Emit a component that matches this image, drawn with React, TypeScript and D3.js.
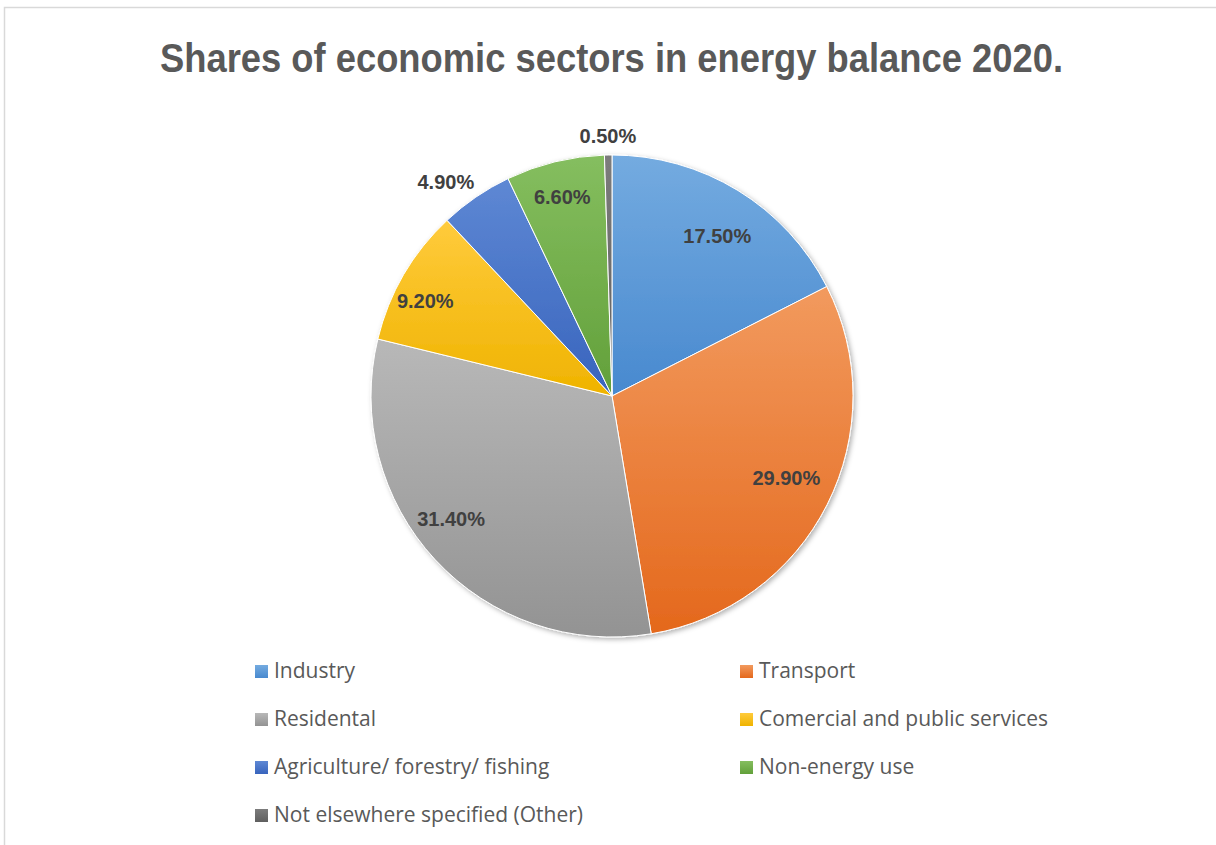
import React from "react";
import * as d3 from "d3";

const categories = [
  "Industry",
  "Transport",
  "Residental",
  "Comercial and public services",
  "Agriculture/ forestry/ fishing",
  "Non-energy use",
  "Not elsewhere specified (Other)",
];
const values = [17.5, 29.9, 31.4, 9.2, 4.9, 6.6, 0.5];
const labels = ["17.50%", "29.90%", "31.40%", "9.20%", "4.90%", "6.60%", "0.50%"];
const lightColors = ["#74abe0", "#f29a5e", "#b8b8b8", "#ffcb3c", "#5e88d4", "#85be5f", "#7c7c7c"];
const darkColors = ["#4889cf", "#e4681c", "#939393", "#efb300", "#3864bd", "#62a03a", "#5f5f5f"];
const outsideLabel = [false, false, false, false, true, false, true];
// small best-fit nudges applied to the label anchor (px)
const labelNudge = [
  [2, 8],
  [-2, -7],
  [-16, -11],
  [-16, 5],
  [0, 0],
  [-3, -7],
  [0, 0],
];

const W = 1216;
const H = 845;
const cx = 612;
const cy = 396;
const R = 241;

export default function App() {
  const pie = d3
    .pie<number>()
    .sort(null)
    .value((d) => d)
    .startAngle(0)
    .endAngle(2 * Math.PI);
  const arcs = pie(values);
  const arcGen = d3.arc<d3.PieArcDatum<number>>().innerRadius(0).outerRadius(R);

  const labelPos = (a: d3.PieArcDatum<number>, i: number) => {
    const mid = (a.startAngle + a.endAngle) / 2;
    const r = outsideLabel[i] ? (i === 6 ? R + 19 : R + 30) : R * 0.82;
    const ang = outsideLabel[i] && i === 4 ? mid - 0.06 : mid;
    return [Math.sin(ang) * r + labelNudge[i][0], -Math.cos(ang) * r + labelNudge[i][1]];
  };

  const legendRows = [678, 726, 774, 822];
  const legendCols = [255, 740];

  return (
    <div style={{ position: "absolute", left: 0, top: 0, width: W, height: H, background: "#fff" }}>
      <svg width={W} height={H} style={{ display: "block" }}>
        <defs>
          {categories.map((c, i) => (
            <linearGradient key={c} id={`g${i}`} x1="0" y1="0" x2="0" y2="1">
              <stop offset="0" stopColor={lightColors[i]} />
              <stop offset="1" stopColor={darkColors[i]} />
            </linearGradient>
          ))}
          <filter id="shadow" x="-10%" y="-10%" width="120%" height="120%">
            <feDropShadow dx="2" dy="2" stdDeviation="2.5" floodColor="#000" floodOpacity="0.3" />
          </filter>
        </defs>
        <rect x={4.5} y={7.5} width={W + 10} height={H + 10} fill="#fff" stroke="#d9d9d9" strokeWidth={1.5} />
        <text
          x={611.5}
          y={72}
          textAnchor="middle"
          fontFamily="'Liberation Sans', Arial, sans-serif"
          fontWeight="bold"
          fontSize={41}
          fill="#595959"
          textLength={903}
          lengthAdjust="spacingAndGlyphs"
        >
          Shares of economic sectors in energy balance 2020.
        </text>
        <g transform={`translate(${cx},${cy})`}>
          <g filter="url(#shadow)">
            {arcs.map((a, i) => (
              <path key={i} d={arcGen(a) || ""} fill={`url(#g${i})`} stroke="#fff" strokeWidth={1} />
            ))}
          </g>
          {arcs.map((a, i) => {
            const [x, y] = labelPos(a, i);
            return (
              <text
                key={`l${i}`}
                x={x}
                y={y}
                dy="0.35em"
                textAnchor="middle"
                fontFamily="'Liberation Sans', Arial, sans-serif"
                fontWeight="bold"
                fontSize={20}
                fill="#404040"
              >
                {labels[i]}
              </text>
            );
          })}
        </g>
        {categories.map((c, i) => {
          const col = i % 2;
          const row = Math.floor(i / 2);
          const x = legendCols[col];
          const y = legendRows[row];
          return (
            <g key={`lg${i}`}>
              <rect x={x} y={y - 13} width={13} height={13} fill={`url(#g${i})`} />
              <text
                x={x + 19}
                y={y}
                fontFamily="'Open Sans', 'Liberation Sans', sans-serif"
                fontSize={21}
                fill="#595959"
              >
                {c}
              </text>
            </g>
          );
        })}
      </svg>
    </div>
  );
}
